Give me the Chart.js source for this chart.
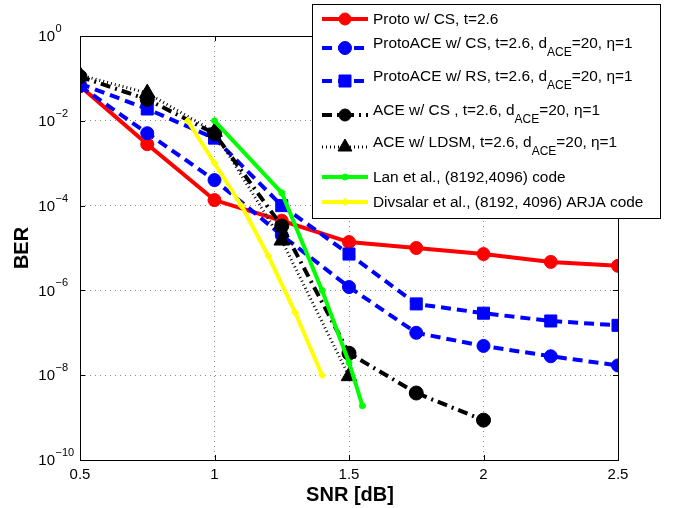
<!DOCTYPE html>
<html>
<head>
<meta charset="utf-8">
<title>BER vs SNR</title>
<script src="https://cdn.jsdelivr.net/npm/chart.js@4/dist/chart.umd.min.js"></script>
<style>
  html, body { margin: 0; padding: 0; background: #fff; }
  #wrap { width: 673px; height: 508px; }
</style>
</head>
<body>
<div id="wrap"><canvas id="berChart" width="673" height="508"></canvas></div>
<script>
// axis ticks
const snrTicks = [0.5, 1, 1.5, 2, 2.5];
const berTickExps = [0, -2, -4, -6, -8, -10];

// Proto w/ CS
const protoCsSnr = [0.5, 0.75, 1, 1.25, 1.5, 1.75, 2, 2.25, 2.5];
const protoCsBer = [6.6e-2, 2.8e-3, 1.35e-4, 4.4e-5, 1.38e-5, 1.0e-5, 7.2e-6, 4.7e-6, 3.8e-6];

// ProtoACE w/ CS
const protoAceCsSnr = [0.5, 0.75, 1, 1.25, 1.5, 1.75, 2, 2.25, 2.5];
const protoAceCsBer = [6.6e-2, 5.1e-3, 4.0e-4, 2.0e-5, 1.2e-6, 1.0e-7, 4.9e-8, 2.8e-8, 1.7e-8];

// ProtoACE w/ RS
const protoAceRsSnr = [0.5, 0.75, 1, 1.25, 1.5, 1.75, 2, 2.25, 2.5];
const protoAceRsBer = [7.5e-2, 1.9e-2, 3.9e-3, 1.0e-4, 7.2e-6, 4.8e-7, 2.9e-7, 1.9e-7, 1.5e-7];

// ACE w/ CS
const aceCsSnr = [0.5, 0.75, 1, 1.25, 1.5, 1.75, 2];
const aceCsBer = [1.1e-1, 3.2e-2, 5.0e-3, 3.3e-5, 3.3e-8, 3.8e-9, 8.7e-10];

// ACE w/ LDSM
const aceLdsmSnr = [0.5, 0.75, 1, 1.25, 1.5];
const aceLdsmBer = [1.2e-1, 4.5e-2, 5.5e-3, 1.5e-5, 9.5e-9];

// Lan et al.
const lanSnr = [1, 1.25, 1.4, 1.5, 1.55];
const lanBer = [1.0e-2, 2.0e-4, 1.0e-6, 2.0e-8, 1.9e-9];

// Divsalar et al.
const divsalarSnr = [0.9, 1, 1.1, 1.2, 1.3, 1.4];
const divsalarBer = [1.0e-2, 1.0e-3, 1.0e-4, 6.5e-6, 3.0e-7, 1.0e-8];

const seriesLabels = [
  'Proto w/ CS, t=2.6',
  'ProtoACE w/ CS, t=2.6, d_{ACE}=20, η=1',
  'ProtoACE w/ RS, t=2.6, d_{ACE}=20, η=1',
  'ACE w/ CS , t=2.6, d_{ACE}=20, η=1',
  'ACE w/ LDSM, t=2.6, d_{ACE}=20, η=1',
  'Lan et al., (8192,4096) code',
  'Divsalar et al., (8192, 4096) ARJA code'
];

const FONT = '"Liberation Sans", Arial, Helvetica, sans-serif';

function toPoints(xs, ys) {
  return xs.map((x, i) => ({ x: x, y: ys[i] }));
}

function makeSeries(idx, xs, ys, color, dash, style, radius, width) {
  return {
    label: seriesLabels[idx],
    data: toPoints(xs, ys),
    borderColor: color,
    backgroundColor: color,
    pointBackgroundColor: color,
    pointBorderColor: color,
    borderWidth: width || 4,
    borderDash: dash,
    pointStyle: style,
    pointRadius: radius,
    pointHoverRadius: radius,
    pointBorderWidth: 1,
    tension: 0,
    fill: false,
    order: 10 - idx
  };
}

const datasets = [
  makeSeries(0, protoCsSnr, protoCsBer, '#ff0000', [], 'circle', 6.5),
  makeSeries(1, protoAceCsSnr, protoAceCsBer, '#0000ff', [10, 6], 'circle', 6.5),
  makeSeries(2, protoAceRsSnr, protoAceRsBer, '#0000ff', [10, 6], 'rect', 8.5),
  makeSeries(3, aceCsSnr, aceCsBer, '#000000', [10, 5, 2, 5], 'circle', 7),
  makeSeries(4, aceLdsmSnr, aceLdsmBer, '#000000', [1, 3], 'triangle', 9, 3),
  makeSeries(5, lanSnr, lanBer, '#00ff00', [], 'circle', 3),
  makeSeries(6, divsalarSnr, divsalarBer, '#ffff00', [], 'rectRot', 3.5)
];

// split "d_{ACE}" into normal / subscript pieces
function parseLabel(text) {
  const parts = [];
  const re = /_\{([^}]*)\}/g;
  let last = 0, m;
  while ((m = re.exec(text)) !== null) {
    if (m.index > last) parts.push({ t: text.slice(last, m.index), sub: false });
    parts.push({ t: m[1], sub: true });
    last = re.lastIndex;
  }
  if (last < text.length) parts.push({ t: text.slice(last), sub: false });
  return parts;
}

function drawMarker(ctx, ds, x, y, r) {
  ctx.save();
  ctx.setLineDash([]);
  const opts = { pointStyle: ds.pointStyle, radius: r, rotation: 0, borderWidth: 1 };
  ctx.fillStyle = ds.pointBackgroundColor;
  ctx.strokeStyle = ds.pointBorderColor;
  ctx.lineWidth = 1;
  Chart.helpers.drawPoint(ctx, opts, x, y);
  ctx.restore();
}

// frame, inner tick marks, tick labels and axis titles
const axesPlugin = {
  id: 'matlabAxes',
  afterDatasetsDraw(chart) {
    const { ctx, chartArea: a, scales } = chart;
    const xs = scales.x, ys = scales.y;
    ctx.save();
    ctx.strokeStyle = '#000';
    ctx.lineWidth = 1;
    ctx.setLineDash([]);
    ctx.strokeRect(Math.round(a.left) + 0.5, Math.round(a.top) + 0.5,
      Math.round(a.right - a.left), Math.round(a.bottom - a.top));

    ctx.beginPath();
    snrTicks.forEach(v => {
      const px = Math.round(xs.getPixelForValue(v)) + 0.5;
      ctx.moveTo(px, a.bottom); ctx.lineTo(px, a.bottom - 5);
      ctx.moveTo(px, a.top); ctx.lineTo(px, a.top + 5);
    });
    berTickExps.forEach(e => {
      const py = Math.round(ys.getPixelForValue(Math.pow(10, e))) + 0.5;
      ctx.moveTo(a.left, py); ctx.lineTo(a.left + 5, py);
      ctx.moveTo(a.right, py); ctx.lineTo(a.right - 5, py);
    });
    ctx.stroke();

    ctx.fillStyle = '#000';
    ctx.textBaseline = 'middle';
    ctx.font = '15px ' + FONT;
    ctx.textAlign = 'center';
    snrTicks.forEach(v => {
      ctx.fillText(String(v), xs.getPixelForValue(v), a.bottom + 15);
    });

    berTickExps.forEach(e => {
      const py = ys.getPixelForValue(Math.pow(10, e));
      ctx.font = '15px ' + FONT;
      ctx.textAlign = 'right';
      ctx.fillText('10', 55, py + 1);
      ctx.font = '11px ' + FONT;
      ctx.textAlign = 'left';
      ctx.fillText(e === 0 ? '0' : '\u2212' + Math.abs(e), 55.5, py - 7);
    });

    ctx.font = 'bold 20px ' + FONT;
    ctx.textAlign = 'center';
    ctx.fillText('SNR [dB]', (a.left + a.right) / 2 + 1, 495);
    ctx.translate(22, 248);
    ctx.rotate(-Math.PI / 2);
    ctx.fillText('BER', 0, 0);
    ctx.restore();
  }
};

// boxed legend with subscripted labels
const legendPlugin = {
  id: 'boxLegend',
  afterDraw(chart) {
    const ctx = chart.ctx;
    const box = { left: 312.5, top: 4.5, right: 660.5, bottom: 218.5 };
    const rowY = [19, 48, 81, 115, 147, 177, 202];
    const markerR = [6, 6.5, 8.5, 6, 8, 3, 3.5];
    ctx.save();
    ctx.fillStyle = '#fff';
    ctx.fillRect(box.left, box.top, box.right - box.left, box.bottom - box.top);
    ctx.strokeStyle = '#000';
    ctx.lineWidth = 1;
    ctx.strokeRect(box.left, box.top, box.right - box.left, box.bottom - box.top);

    chart.data.datasets.forEach((ds, i) => {
      const y = rowY[i];
      ctx.save();
      ctx.strokeStyle = ds.borderColor;
      ctx.lineWidth = ds.borderWidth;
      ctx.setLineDash(ds.borderDash || []);
      ctx.beginPath();
      ctx.moveTo(322, y);
      ctx.lineTo(368, y);
      ctx.stroke();
      ctx.restore();
      drawMarker(ctx, ds, 345, y, markerR[i]);

      const parts = parseLabel(ds.label);
      const hasSub = parts.some(p => p.sub);
      let x = 373;
      const baseY = hasSub ? y - 4 : y + 1;
      ctx.fillStyle = '#000';
      ctx.textAlign = 'left';
      ctx.textBaseline = 'middle';
      parts.forEach(p => {
        ctx.font = (p.sub ? '12px ' : '15.4px ') + FONT;
        ctx.fillText(p.t, x, p.sub ? baseY + 9 : baseY);
        x += ctx.measureText(p.t).width;
      });
    });
    ctx.restore();
  }
};

new Chart(document.getElementById('berChart').getContext('2d'), {
  type: 'line',
  data: { datasets: datasets },
  options: {
    responsive: false,
    animation: false,
    events: [],
    layout: { padding: { left: 80, right: 55, top: 36, bottom: 48 } },
    plugins: {
      legend: { display: false },
      tooltip: { enabled: false },
      title: { display: false }
    },
    scales: {
      x: {
        type: 'linear',
        min: 0.5,
        max: 2.5,
        afterBuildTicks: scale => { scale.ticks = snrTicks.map(v => ({ value: v })); },
        ticks: { display: false },
        grid: { color: '#888888', lineWidth: 1, drawTicks: false },
        border: { display: false, dash: [1, 4] }
      },
      y: {
        type: 'logarithmic',
        min: 1e-10,
        max: 1,
        afterBuildTicks: scale => { scale.ticks = berTickExps.map(e => ({ value: Math.pow(10, e) })); },
        ticks: { display: false },
        grid: { color: '#888888', lineWidth: 1, drawTicks: false },
        border: { display: false, dash: [1, 4] }
      }
    }
  },
  plugins: [axesPlugin, legendPlugin]
});
</script>
</body>
</html>
